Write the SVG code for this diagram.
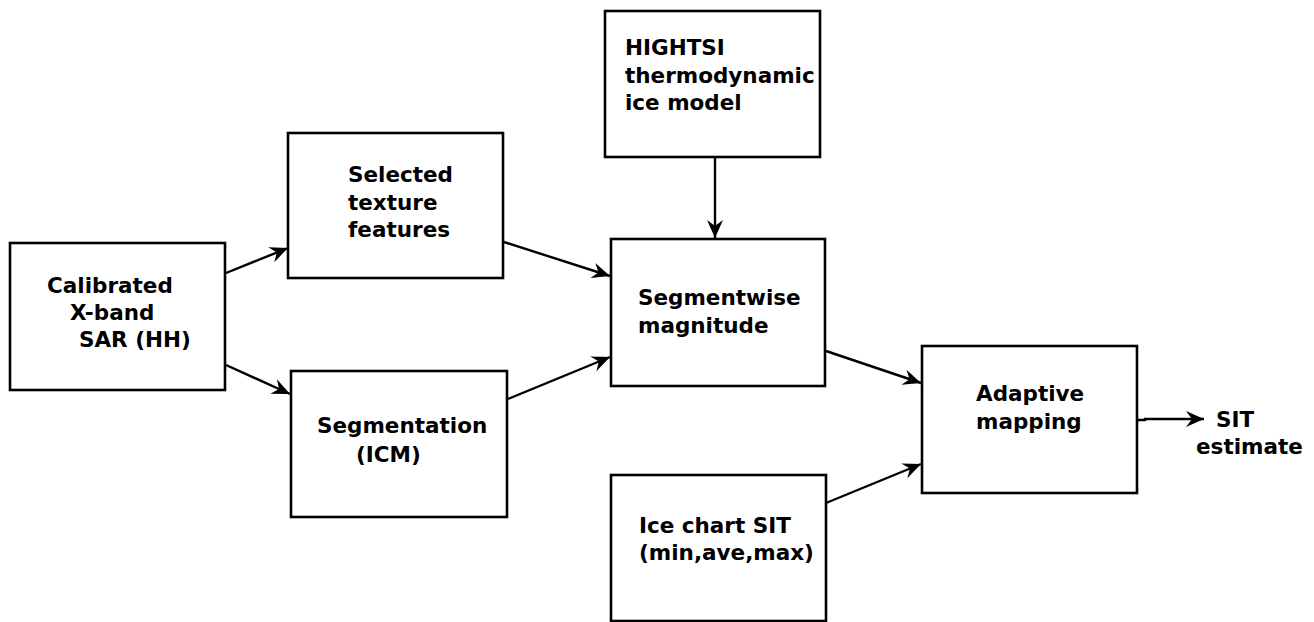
<svg xmlns="http://www.w3.org/2000/svg" width="1314" height="622" viewBox="0 0 1314 622">
<style>
.box{fill:#fff;stroke:#000;stroke-width:2.6}
.t{font-family:"DejaVu Sans",sans-serif;font-weight:bold;font-size:21.5px;fill:#000}
.c{fill:none;stroke:#000;stroke-width:2.4}
</style>
<defs>
<marker id="ah" markerUnits="userSpaceOnUse" markerWidth="22" markerHeight="20" viewBox="-19 -10 21 20" refX="0" refY="0" orient="auto">
<path d="M0,0 L-18,-8 L-12,0 L-18,8 Z" fill="#000"/>
</marker>
</defs>
<rect width="1314" height="622" fill="#fff"/>
<g id="connectors">
<line class="c" x1="226" y1="273" x2="288" y2="248" marker-end="url(#ah)"/>
<line class="c" x1="226" y1="365" x2="290" y2="394" marker-end="url(#ah)"/>
<line class="c" x1="504" y1="242" x2="610" y2="276" marker-end="url(#ah)"/>
<line class="c" x1="508" y1="399" x2="610" y2="357" marker-end="url(#ah)"/>
<line class="c" x1="715" y1="157" x2="715" y2="238" marker-end="url(#ah)"/>
<line class="c" x1="826" y1="351" x2="921" y2="383" marker-end="url(#ah)"/>
<line class="c" x1="826" y1="503" x2="921" y2="464" marker-end="url(#ah)"/>
<polyline class="c" points="1137,420 1145,420 1145,419 1204,419" marker-end="url(#ah)"/>
</g>
<g id="calibrated">
<rect class="box" x="10" y="243" width="215" height="147"/>
<text class="t" x="47" y="293">Calibrated</text>
<text class="t" x="70" y="320">X-band</text>
<text class="t" x="79" y="347">SAR (HH)</text>
</g>
<g id="texture">
<rect class="box" x="288" y="133" width="215" height="145"/>
<text class="t" x="348" y="182">Selected</text>
<text class="t" x="348" y="210">texture</text>
<text class="t" x="348" y="237">features</text>
</g>
<g id="segmentation">
<rect class="box" x="291" y="371" width="216" height="146"/>
<text class="t" x="317" y="433">Segmentation</text>
<text class="t" x="356" y="462">(ICM)</text>
</g>
<g id="hightsi">
<rect class="box" x="605" y="11" width="215" height="146"/>
<text class="t" x="625" y="55">HIGHTSI</text>
<text class="t" x="625" y="83">thermodynamic</text>
<text class="t" x="625" y="110">ice model</text>
</g>
<g id="segmentwise">
<rect class="box" x="611" y="239" width="214" height="147"/>
<text class="t" x="638" y="305">Segmentwise</text>
<text class="t" x="638" y="333">magnitude</text>
</g>
<g id="adaptive">
<rect class="box" x="922" y="346" width="215" height="147"/>
<text class="t" x="976" y="401">Adaptive</text>
<text class="t" x="976" y="429">mapping</text>
</g>
<g id="icechart">
<rect class="box" x="611" y="475" width="215" height="146"/>
<text class="t" x="639" y="533">Ice chart SIT</text>
<text class="t" x="639" y="560">(min,ave,max)</text>
</g>
<g id="output">
<text class="t" x="1216" y="427">SIT</text>
<text class="t" x="1196" y="454">estimate</text>
</g>
</svg>
